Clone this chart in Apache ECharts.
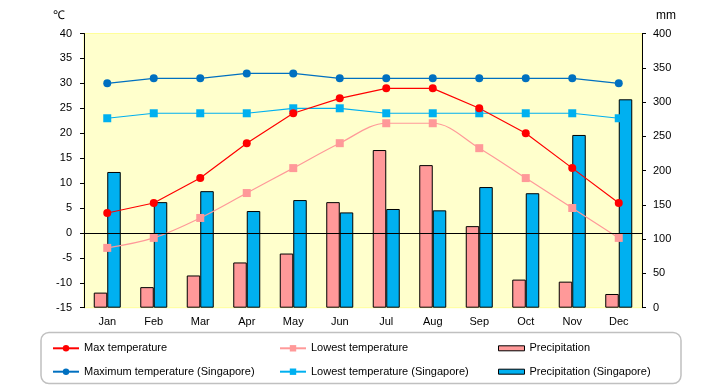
<!DOCTYPE html>
<html>
<head>
<meta charset="utf-8">
<script src="https://cdn.jsdelivr.net/npm/echarts@6/dist/echarts.min.js"></script>
<style>html,body{margin:0;padding:0;background:#fff}#c{width:720px;height:385px}</style>
</head>
<body>
<div id="c"></div>
<script>
var months = ['Jan','Feb','Mar','Apr','May','Jun','Jul','Aug','Sep','Oct','Nov','Dec'];
var maxTemp = [4, 6, 11, 18, 24, 27, 29, 29, 25, 20, 13, 6];
var lowTemp = [-3, -1, 3, 8, 13, 18, 22, 22, 17, 11, 5, -1];
var precip = [22, 30, 47, 66, 79, 154, 230, 208, 119, 41, 38, 20];
var maxTempSg = [30, 31, 31, 32, 32, 31, 31, 31, 31, 31, 31, 30];
var lowTempSg = [23, 24, 24, 24, 25, 25, 24, 24, 24, 24, 24, 23];
var precipSg = [198, 154, 170, 141, 157, 139, 144, 142, 176, 167, 252, 304];

var FONT = 'Liberation Sans';
var chart = echarts.init(document.getElementById('c'));
var legendText = {fontFamily: FONT, fontSize: 11, color: '#000'};
function lg(name, left, top, ih, icon, gap) {
  var o = {left: left, top: top, padding: 0, itemWidth: 26, itemHeight: ih, itemGap: 0,
          itemTextGap: gap, textStyle: legendText, data: [name]};
  if (icon) { o.icon = icon; o.itemStyle = {borderWidth: 1, borderColor: '#000'}; }
  return o;
}
var row1 = 342.8, row2 = 366.2;
chart.setOption({
  animation: false,
  textStyle: {fontFamily: FONT},
  grid: {left: 84, right: 78, top: 33.5, bottom: 77.3, show: true,
         backgroundColor: '#FFFFCC', borderColor: '#FFFF99', borderWidth: 1},
  graphic: [
    {type: 'rect', shape: {x: 41, y: 332.5, width: 640, height: 51, r: 8},
     style: {fill: 'none', stroke: '#C0C0C0', lineWidth: 1.5}, silent: true},
    {type: 'text', left: 53, top: 10, style: {text: '℃', font: '12px ' + FONT, fill: '#000'}},
    {type: 'text', left: 656, top: 10, style: {text: 'mm', font: '12px ' + FONT, fill: '#000'}}
  ],
  legend: [
    lg('Max temperature', 52, row1, 8, null, 4),
    lg('Maximum temperature (Singapore)', 52, row2, 8, null, 4),
    lg('Lowest temperature', 279, row1, 8, null, 4),
    lg('Lowest temperature (Singapore)', 279, row2, 8, null, 4),
    lg('Precipitation', 498, row1, 5, 'rect', 3),
    lg('Precipitation (Singapore)', 498, row2, 5, 'rect', 3)
  ],
  xAxis: {
    type: 'category', data: months,
    axisLine: {show: false}, axisTick: {show: false},
    axisLabel: {color: '#000', fontSize: 11, fontFamily: FONT, margin: 9}
  },
  yAxis: [
    {type: 'value', min: -15, max: 40, interval: 5, position: 'left',
     axisLine: {show: true, lineStyle: {color: '#000'}},
     axisTick: {show: true, length: 4, lineStyle: {color: '#000'}},
     splitLine: {show: false},
     axisLabel: {color: '#000', fontSize: 11, fontFamily: FONT, margin: 12}},
    {type: 'value', min: 0, max: 400, interval: 50, position: 'right',
     axisLine: {show: true, lineStyle: {color: '#000'}},
     axisTick: {show: true, length: 4, lineStyle: {color: '#000'}},
     splitLine: {show: false},
     axisLabel: {color: '#000', fontSize: 11, fontFamily: FONT, margin: 11}}
  ],
  series: [
    {name: 'Precipitation', type: 'bar', yAxisIndex: 1, data: precip, barWidth: 13.5, barGap: '0%',
     itemStyle: {color: '#FF9999', borderColor: '#000', borderWidth: 1}},
    {name: 'Precipitation (Singapore)', type: 'bar', yAxisIndex: 1, data: precipSg, barWidth: 13.5, barGap: '0%',
     itemStyle: {color: '#00B0F0', borderColor: '#000', borderWidth: 1}},
    {name: 'Lowest temperature', type: 'line', data: lowTemp, smooth: 0.35,
     symbol: 'rect', symbolSize: 8, color: '#FF9999', lineStyle: {width: 1.2, color: '#FF9999'}},
    {name: 'Lowest temperature (Singapore)', type: 'line', data: lowTempSg,
     symbol: 'rect', symbolSize: 8, color: '#00B0F0', lineStyle: {width: 1.2, color: '#00B0F0'}},
    {name: 'Maximum temperature (Singapore)', type: 'line', data: maxTempSg,
     symbol: 'circle', symbolSize: 8, color: '#0070C0', lineStyle: {width: 1.2, color: '#0070C0'}},
    {name: 'Max temperature', type: 'line', data: maxTemp,
     symbol: 'circle', symbolSize: 8, color: '#FF0000', lineStyle: {width: 1.2, color: '#FF0000'},
     markLine: {silent: true, symbol: 'none', label: {show: false},
       lineStyle: {color: '#000', width: 1, type: 'solid'}, data: [{yAxis: 0}]}}
  ]
});
</script>
</body>
</html>
